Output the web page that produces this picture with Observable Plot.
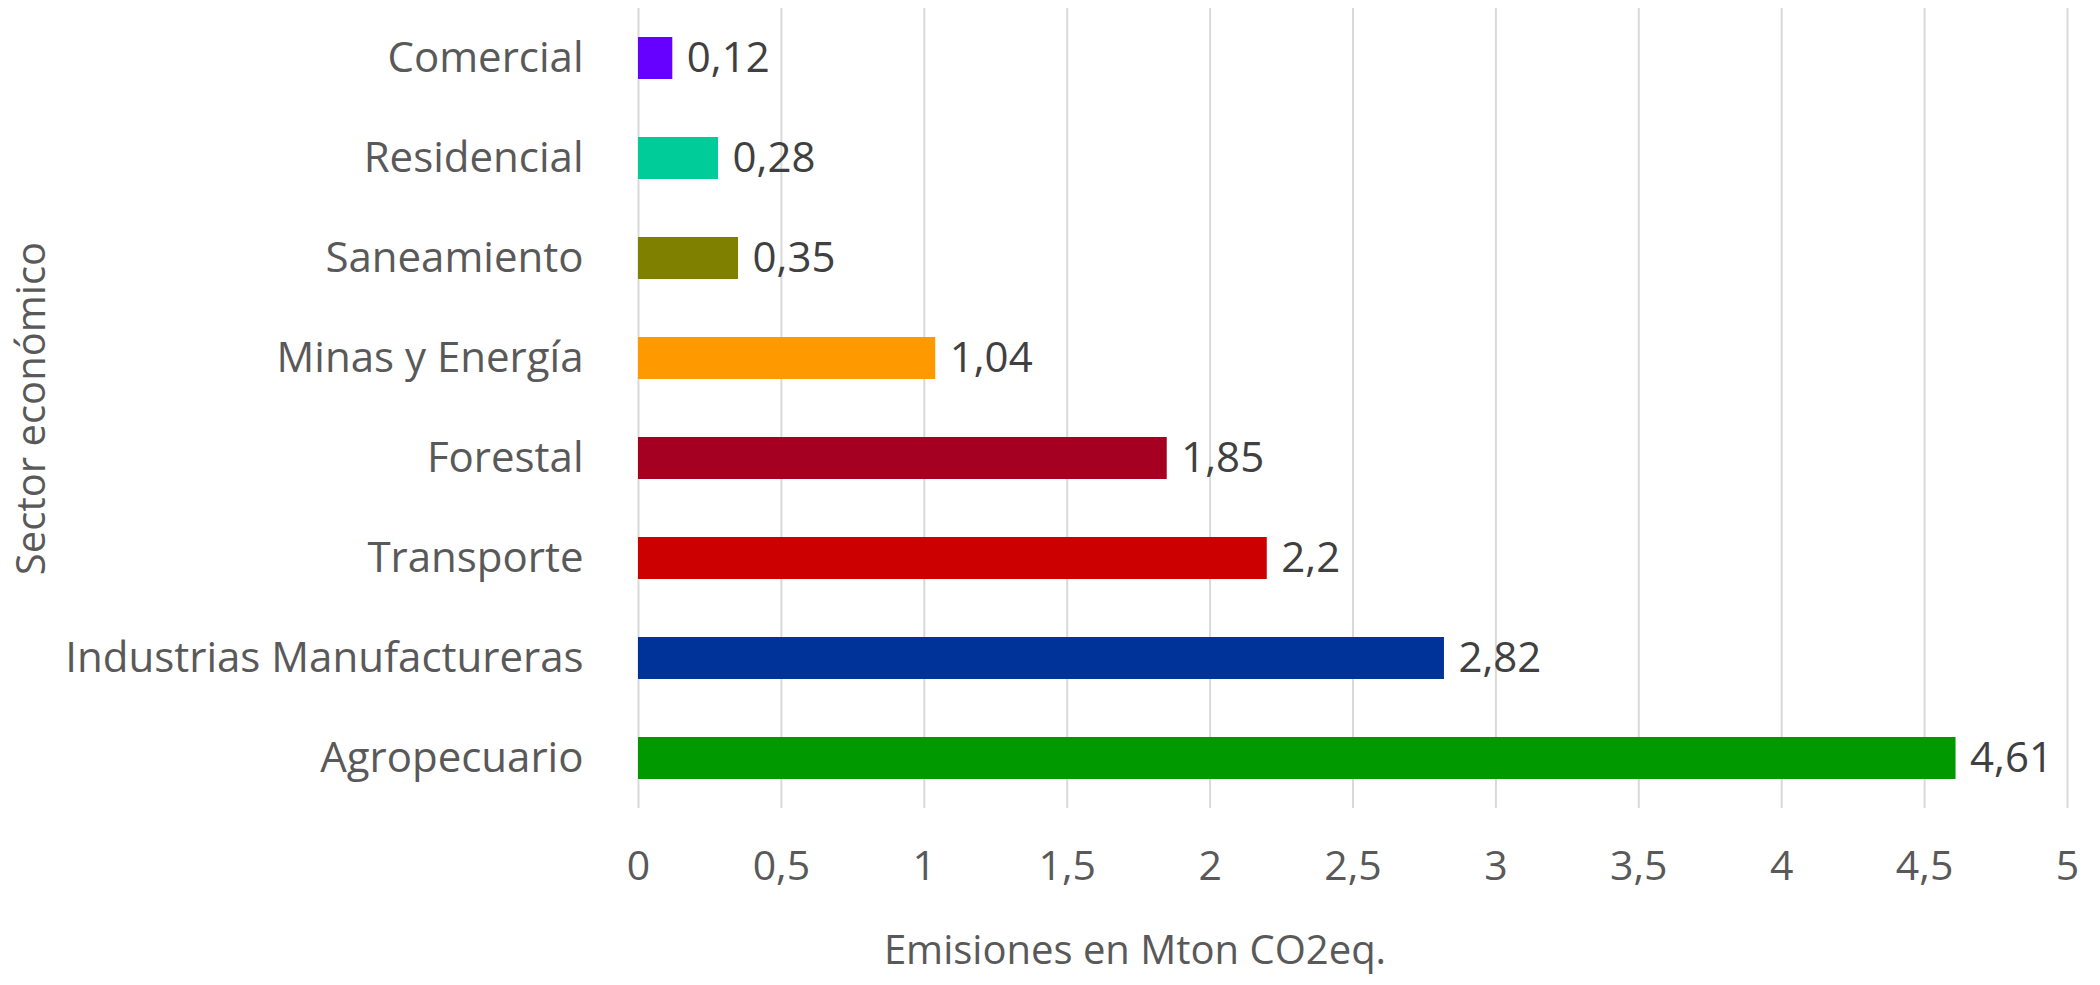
<!DOCTYPE html>
<html>
<head>
<meta charset="utf-8">
<script src="https://cdn.jsdelivr.net/npm/d3@7"></script>
<script src="https://cdn.jsdelivr.net/npm/@observablehq/plot@0.6"></script>
<style>
  html, body { margin: 0; padding: 0; background: #fff; }
  svg { display: block; }
</style>
</head>
<body>
<div id="chart"></div>
<script>
const sectors = ["Comercial", "Residencial", "Saneamiento", "Minas y Energía", "Forestal", "Transporte", "Industrias Manufactureras", "Agropecuario"];
const values = [0.12, 0.28, 0.35, 1.04, 1.85, 2.2, 2.82, 4.61];
const colors = ["#6600FF", "#00CC99", "#808000", "#FF9900", "#A50021", "#CC0000", "#003399", "#009900"];
const xTicks = [0, 0.5, 1, 1.5, 2, 2.5, 3, 3.5, 4, 4.5, 5];
const xTitle = "Emisiones en Mton CO2eq.";
const yTitle = "Sector económico";

const data = sectors.map((s, i) => ({sector: s, value: values[i], color: colors[i]}));
const fmt = d => String(d).replace(".", ",");

const chart = Plot.plot({
  width: 2100,
  height: 985,
  marginLeft: 638,
  marginRight: 33,
  marginTop: 8,
  marginBottom: 177,
  style: {fontFamily: "'Open Sans', sans-serif", background: "#fff"},
  x: {domain: [0, 5], axis: null},
  y: {domain: sectors, paddingInner: 0.58, paddingOuter: 0.29, axis: null},
  color: {domain: sectors, range: colors},
  marks: [
    Plot.gridX(xTicks, {stroke: "#d9d9d9", strokeOpacity: 1, strokeWidth: 2}),
    Plot.axisX({ticks: xTicks, tickFormat: fmt, tickSize: 0, tickPadding: 42, fontSize: 41, fill: "#595959", label: null}),
    Plot.axisY({tickSize: 0, tickPadding: 55, fontSize: 42, fill: "#595959", label: null}),
    Plot.barX(data, {x: "value", y: "sector", fill: "sector"}),
    Plot.text(data, {x: "value", y: "sector", text: d => fmt(d.value), textAnchor: "start", dx: 14, fontSize: 42, fill: "#404040"}),
    Plot.text([xTitle], {frameAnchor: "bottom", dx: -218, dy: 155, fontSize: 40, fill: "#595959"}),
    Plot.text([yTitle], {frameAnchor: "left", textAnchor: "middle", rotate: -90, dx: -606, fontSize: 40, fill: "#595959"})
  ]
});
document.getElementById("chart").appendChild(chart);
</script>
</body>
</html>
